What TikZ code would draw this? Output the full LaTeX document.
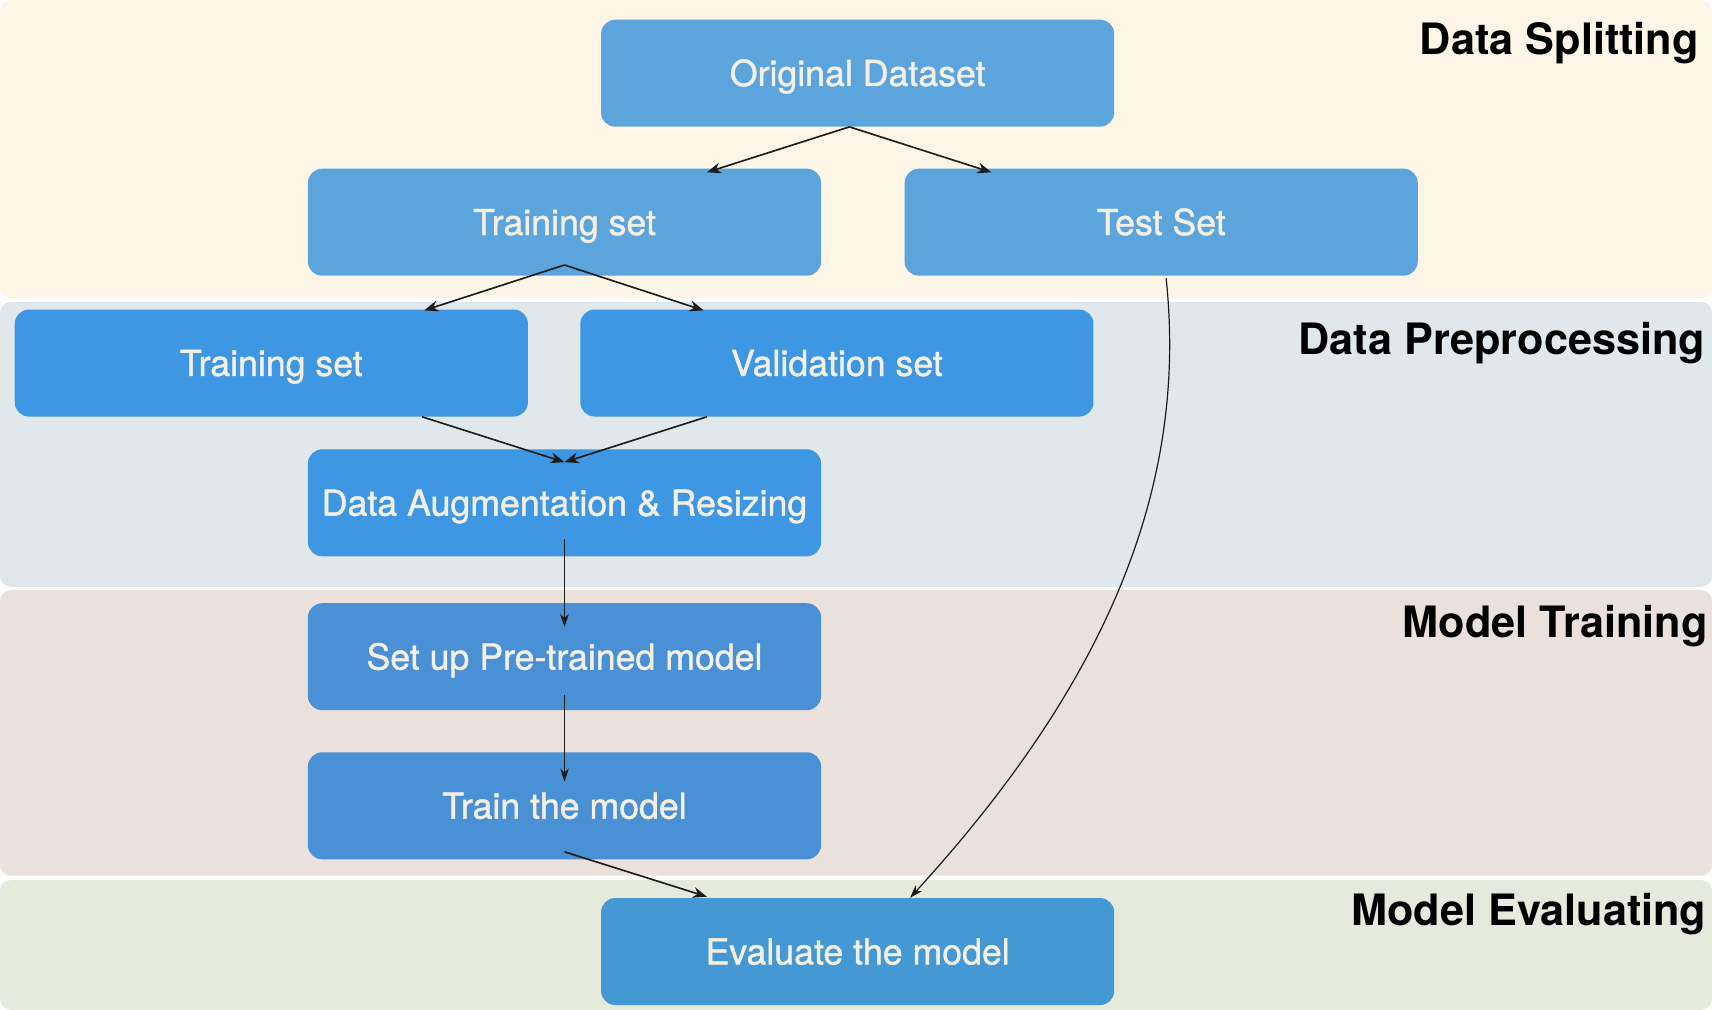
\documentclass[tikz,border=0pt]{standalone}
\usepackage{fontspec}
\setmainfont{TeX Gyre Heros}
\newfontfamily\boxfont[FakeBold=1.2]{TeX Gyre Heros}
\usetikzlibrary{arrows.meta}

\definecolor{splitbg}{HTML}{FDF5E5}
\definecolor{prepbg}{HTML}{E1E8EB}
\definecolor{trainbg}{HTML}{EAE0DC}
\definecolor{evalbg}{HTML}{E6EADC}
\definecolor{splitblue}{HTML}{5CA5DC}
\definecolor{prepblue}{HTML}{3E97E3}
\definecolor{fitblue}{HTML}{4A90D4}
\definecolor{evalblue}{HTML}{4499D4}
\definecolor{boxtext}{HTML}{F4EFE3}
\definecolor{linecol}{HTML}{1C1C1C}

\begin{document}
\begin{tikzpicture}[x=1pt,y=-1pt,
  band/.style={rounded corners=10pt},
  stage/.style={font=\bfseries\fontsize{39.6}{44}\selectfont, anchor=base east, inner sep=0pt},
  box/.style={rounded corners=13pt, minimum width=470pt, minimum height=98pt, inner sep=0pt,
    text=boxtext, font=\boxfont\fontsize{32.7}{38}\selectfont, text height=23.5pt, text depth=0pt},
  link/.style={-{Stealth[length=13pt,width=10pt]}, line width=1.5pt, draw=linecol},
  thinlink/.style={-{Stealth[length=12pt,width=8pt]}, line width=1.1pt, draw=linecol}]
  \useasboundingbox (0,0) rectangle (1568,925);

  % stage bands
  \fill[band, fill=splitbg] (0,0) rectangle (1568,273);
  \fill[band, fill=prepbg] (0,276.5) rectangle (1568,537.5);
  \fill[band, fill=trainbg] (0,540.5) rectangle (1568,802);
  \fill[band, fill=evalbg] (0,806) rectangle (1568,925);

  \node[stage] (splitlbl) at (1556,49.5) {Data Splitting};
  \node[stage] (preplbl) at (1562,325) {Data Preprocessing};
  \node[stage] (trainlbl) at (1564,584) {Model Training};
  \node[stage] (evallbl) at (1563,848) {Model Evaluating};

  % steps
  \node[box, fill=splitblue] (orig) at (785.5,67) {Original Dataset};
  \node[box, fill=splitblue] (trainall) at (517,203.5) {Training set};
  \node[box, fill=splitblue] (test) at (1063.5,203.5) {Test Set};
  \node[box, fill=prepblue] (train) at (248.5,332.5) {Training set};
  \node[box, fill=prepblue] (valid) at (766.5,332.5) {Validation set};
  \node[box, fill=prepblue] (augment) at (517,460.5) {Data Augmentation \& Resizing};
  \node[box, fill=fitblue] (setup) at (517,601.5) {Set up Pre-trained model};
  \node[box, fill=fitblue] (fit) at (517,738) {Train the model};
  \node[box, fill=evalblue] (eval) at (785.5,871.5) {Evaluate the model};

  % flow
  \draw[link] ([xshift=-7.5pt]orig.south) -- ([xshift=130.5pt,yshift=-3.5pt]trainall.north);
  \draw[link] ([xshift=-7.5pt]orig.south) -- ([xshift=-155.5pt,yshift=-3.5pt]test.north);
  \draw[link] ([yshift=10pt]trainall.south) -- ([xshift=140pt,yshift=-1pt]train.north);
  \draw[link] ([yshift=10pt]trainall.south) -- ([xshift=-122pt,yshift=-1pt]valid.north);
  \draw[link] ([xshift=138pt]train.south) -- ([yshift=-12pt]augment.north);
  \draw[link] ([xshift=-119pt]valid.south) -- ([yshift=-12pt]augment.north);
  \draw[thinlink] ([yshift=16pt]augment.south) -- ([yshift=-22pt]setup.north);
  \draw[thinlink] ([yshift=14pt]setup.south) -- ([yshift=-27pt]fit.north);
  \draw[link] ([yshift=7pt]fit.south) -- ([xshift=-138pt,yshift=1pt]eval.north);
  \draw[thinlink] ([xshift=4.5pt,yshift=-2pt]test.south) .. controls (1090,460) and (1000,640) .. ([xshift=48pt]eval.north);
\end{tikzpicture}
\end{document}
